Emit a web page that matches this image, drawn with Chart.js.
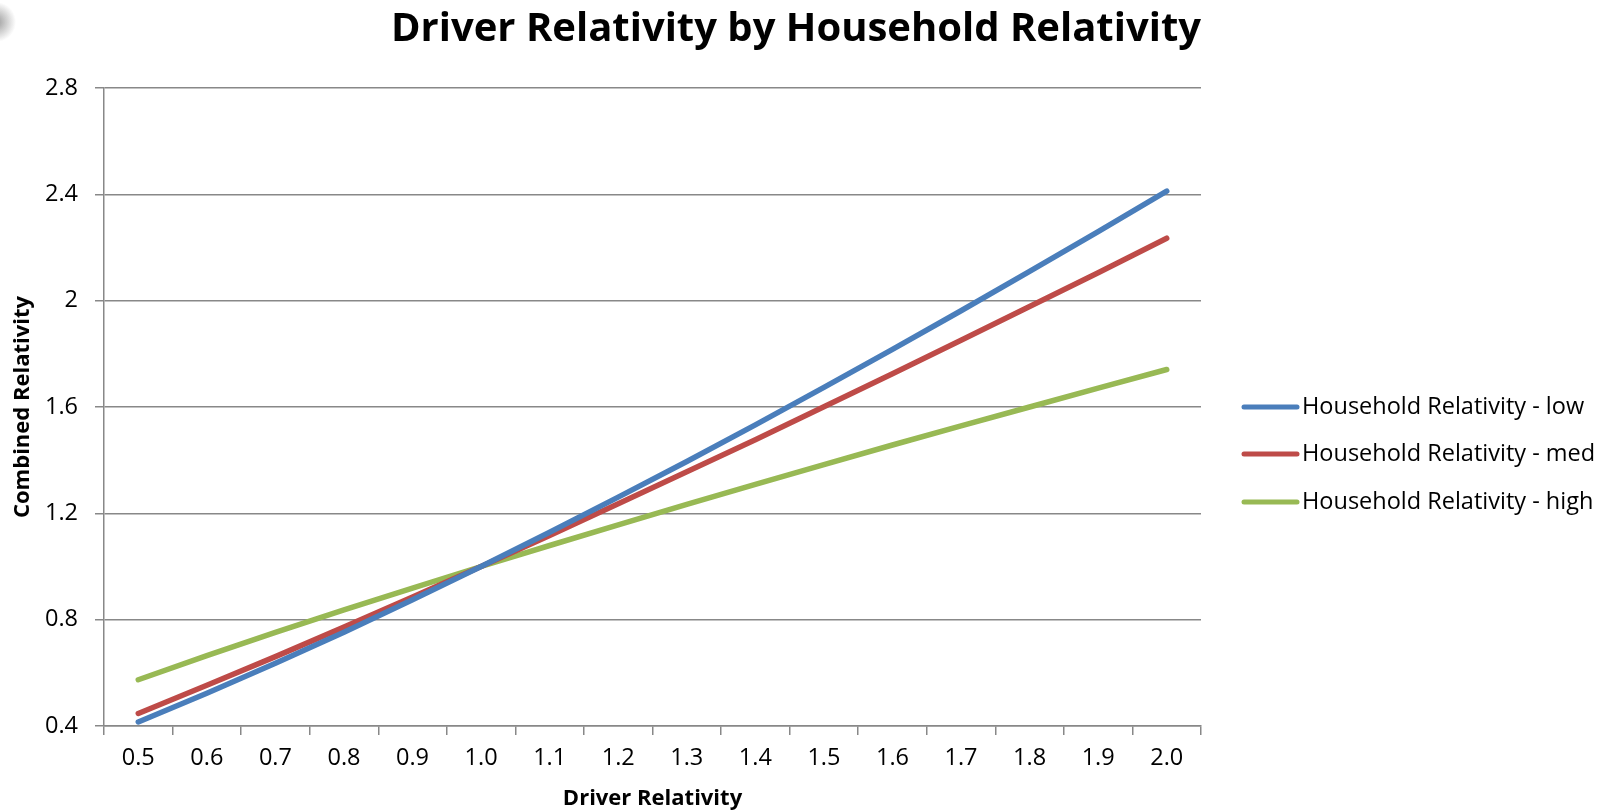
<!DOCTYPE html>
<html>
<head>
<meta charset="utf-8">
<title>Driver Relativity by Household Relativity</title>
<script src="https://cdn.jsdelivr.net/npm/chart.js@4.4.1/dist/chart.umd.min.js"></script>
<style>
  html, body { margin: 0; padding: 0; background: #ffffff; }
  canvas { display: block; }
</style>
</head>
<body>
<canvas id="chart" width="1610" height="812"></canvas>
<script>
// Driver relativity categories (x axis)
const driverRelativity = ['0.5', '0.6', '0.7', '0.8', '0.9', '1.0', '1.1', '1.2',
                          '1.3', '1.4', '1.5', '1.6', '1.7', '1.8', '1.9', '2.0'];

// Combined relativity for each household relativity level
const householdLow  = [0.415, 0.523, 0.636, 0.753, 0.875, 1.000, 1.129, 1.261, 1.395, 1.533, 1.674, 1.817, 1.962, 2.110, 2.260, 2.412];
const householdMed  = [0.447, 0.553, 0.661, 0.772, 0.885, 1.000, 1.117, 1.236, 1.356, 1.477, 1.601, 1.725, 1.851, 1.978, 2.105, 2.235];
const householdHigh = [0.574, 0.665, 0.752, 0.837, 0.919, 1.000, 1.079, 1.157, 1.234, 1.309, 1.383, 1.457, 1.529, 1.600, 1.671, 1.741];

const seriesNames = ['Household Relativity - low', 'Household Relativity - med', 'Household Relativity - high'];
const seriesColors = ['#4a7ebb', '#be4b48', '#98b954'];

// Y axis tick values
const yTickValues = [0.4, 0.8, 1.2, 1.6, 2.0, 2.4, 2.8];

const chartTitle = 'Driver Relativity by Household Relativity';
const xAxisTitle = 'Driver Relativity';
const yAxisTitle = 'Combined Relativity';

const gridColor = '#888888';
const textFont = "'Open Sans', 'Liberation Sans', sans-serif";

// Title, right-hand legend and the faint corner shading
const decorations = {
  id: 'decorations',
  beforeDraw(chart) {
    const ctx = chart.ctx;
    ctx.save();
    const g = ctx.createRadialGradient(-4, 22, 0, -4, 22, 20);
    g.addColorStop(0, 'rgba(120,120,120,0.75)');
    g.addColorStop(1, 'rgba(120,120,120,0)');
    ctx.fillStyle = g;
    ctx.fillRect(0, 0, 20, 50);
    ctx.restore();
  },
  afterDraw(chart) {
    const ctx = chart.ctx;
    ctx.save();
    ctx.fillStyle = '#000';
    ctx.font = "bold 40px 'Liberation Sans Narrow', 'Open Sans', sans-serif";
    ctx.textAlign = 'center';
    ctx.textBaseline = 'alphabetic';
    ctx.fillText(chartTitle, 796, 41);

    const rows = [407, 454, 502];
    chart.data.datasets.forEach((ds, i) => {
      const y = rows[i];
      ctx.strokeStyle = ds.borderColor;
      ctx.lineWidth = 5;
      ctx.lineCap = 'round';
      ctx.beginPath();
      ctx.moveTo(1244, y);
      ctx.lineTo(1297, y);
      ctx.stroke();
      ctx.fillStyle = '#000';
      ctx.font = '23.5px ' + textFont;
      ctx.textAlign = 'left';
      ctx.textBaseline = 'middle';
      ctx.fillText(ds.label, 1302, y);
    });
    ctx.restore();
  }
};

const makeSet = (label, data, color) => ({
  label, data,
  borderColor: color,
  backgroundColor: color,
  borderWidth: 5.5,
  borderCapStyle: 'round',
  borderJoinStyle: 'round',
  pointRadius: 0,
  pointHoverRadius: 0,
  tension: 0,
  fill: false
});

new Chart(document.getElementById('chart'), {
  type: 'line',
  data: {
    labels: driverRelativity,
    datasets: [
      makeSet(seriesNames[0], householdLow, seriesColors[0]),
      makeSet(seriesNames[1], householdMed, seriesColors[1]),
      makeSet(seriesNames[2], householdHigh, seriesColors[2])
    ]
  },
  options: {
    responsive: false,
    animation: false,
    devicePixelRatio: 1,
    layout: { padding: { top: 88, right: 409, left: 0, bottom: 0 } },
    plugins: {
      legend: { display: false },
      title: { display: false },
      tooltip: { enabled: false }
    },
    scales: {
      x: {
        type: 'category',
        offset: true,
        afterFit(scale) { scale.height = 86; },
        grid: {
          offset: true,
          drawOnChartArea: false,
          drawTicks: true,
          tickLength: 9,
          color: gridColor,
          lineWidth: 1.5
        },
        border: { color: gridColor, width: 1.5 },
        ticks: {
          color: '#000',
          font: { family: textFont, size: 23.5 },
          padding: 9,
          maxRotation: 0,
          autoSkip: false
        },
        title: {
          display: true,
          text: xAxisTitle,
          color: '#000',
          font: { family: textFont, size: 22, weight: 'bold' },
          padding: { top: -6, bottom: 0 }
        }
      },
      y: {
        min: 0.4,
        max: 2.8,
        afterFit(scale) { scale.width = 104; },
        afterBuildTicks(scale) { scale.ticks = yTickValues.map(v => ({ value: v })); },
        grid: {
          color: gridColor,
          lineWidth: 1.5,
          tickLength: 9
        },
        border: { color: gridColor, width: 1.5 },
        ticks: {
          color: '#000',
          font: { family: textFont, size: 23.5 },
          padding: 17,
          callback: v => String(Number(v.toFixed(1)))
        },
        title: {
          display: true,
          text: yAxisTitle,
          color: '#000',
          font: { family: textFont, size: 22, weight: 'bold' },
          padding: { top: 10, bottom: 0 }
        }
      }
    }
  },
  plugins: [decorations]
});
</script>
</body>
</html>
